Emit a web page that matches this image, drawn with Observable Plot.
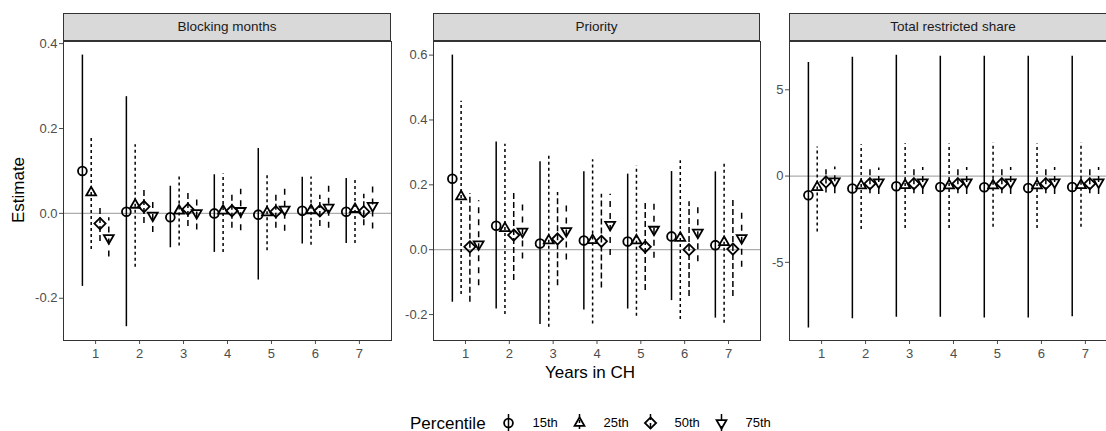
<!DOCTYPE html>
<html><head><meta charset="utf-8">
<script src="https://cdn.jsdelivr.net/npm/d3@7"></script>
<script src="https://cdn.jsdelivr.net/npm/@observablehq/plot@0.6"></script>
<style>
html,body{margin:0;padding:0;background:#fff;overflow:hidden}
#chart{position:relative;width:1106px;height:431px;overflow:hidden;font-family:"Liberation Sans",Arial,Helvetica,sans-serif}
#chart svg{position:absolute;top:0}
.strip{position:absolute;top:13px;height:28px;box-sizing:border-box;border:1px solid #333;background:#d9d9d9;font-size:13.5px;color:#1a1a1a;text-align:center;line-height:26px;white-space:nowrap;overflow:hidden}
.title{position:absolute;color:#000;font-size:17px;line-height:17px;white-space:nowrap}
</style>
</head><body>
<div id="chart"></div>
<script>
const years = [1, 2, 3, 4, 5, 6, 7];
const percentiles = ["15th", "25th", "50th", "75th"];
const panelTitles = ["Blocking months", "Priority", "Total restricted share"];

// rows: 15th, 25th, 50th, 75th; columns: years 1..7
const blockEst = [
  [0.100, 0.004, -0.009, 0.000, -0.003, 0.006, 0.004],
  [0.049, 0.020, 0.006, 0.006, 0.002, 0.007, 0.010],
  [-0.024, 0.016, 0.010, 0.006, 0.004, 0.006, 0.004],
  [-0.058, -0.005, 0.001, 0.006, 0.009, 0.014, 0.018]
];
const blockLo = [
  [-0.172, -0.267, -0.081, -0.092, -0.157, -0.072, -0.071],
  [-0.085, -0.127, -0.077, -0.092, -0.088, -0.075, -0.071],
  [-0.066, -0.024, -0.031, -0.035, -0.035, -0.031, -0.029],
  [-0.103, -0.045, -0.039, -0.041, -0.042, -0.035, -0.037]
];
const blockHi = [
  [0.373, 0.275, 0.064, 0.091, 0.153, 0.085, 0.082],
  [0.179, 0.162, 0.087, 0.093, 0.091, 0.086, 0.082],
  [0.018, 0.057, 0.053, 0.048, 0.043, 0.043, 0.045],
  [-0.010, 0.034, 0.040, 0.057, 0.064, 0.065, 0.075]
];

const prioEst = [
  [0.219, 0.074, 0.019, 0.028, 0.025, 0.041, 0.014],
  [0.164, 0.066, 0.028, 0.029, 0.028, 0.036, 0.023],
  [0.009, 0.045, 0.033, 0.026, 0.009, 0.000, 0.002],
  [0.017, 0.056, 0.058, 0.077, 0.062, 0.053, 0.036]
];
const prioLo = [
  [-0.162, -0.183, -0.231, -0.186, -0.183, -0.157, -0.211],
  [-0.138, -0.200, -0.239, -0.229, -0.205, -0.215, -0.227],
  [-0.162, -0.095, -0.111, -0.118, -0.126, -0.144, -0.144],
  [-0.111, -0.029, -0.032, -0.018, -0.026, -0.037, -0.054]
];
const prioHi = [
  [0.600, 0.332, 0.271, 0.240, 0.233, 0.241, 0.240],
  [0.458, 0.325, 0.288, 0.277, 0.258, 0.274, 0.264],
  [0.173, 0.176, 0.176, 0.171, 0.146, 0.148, 0.158],
  [0.151, 0.144, 0.149, 0.171, 0.148, 0.141, 0.130]
];

const shareEst = [
  [-1.11, -0.72, -0.59, -0.63, -0.65, -0.69, -0.63],
  [-0.65, -0.55, -0.53, -0.55, -0.55, -0.55, -0.53],
  [-0.34, -0.44, -0.44, -0.44, -0.44, -0.44, -0.44],
  [-0.30, -0.36, -0.36, -0.36, -0.36, -0.36, -0.36]
];
const shareLo = [
  [-8.80, -8.27, -8.18, -8.18, -8.22, -8.22, -8.16],
  [-3.24, -3.10, -3.04, -3.04, -2.96, -3.04, -2.96],
  [-0.98, -1.03, -1.03, -1.03, -1.03, -1.03, -1.03],
  [-1.03, -1.07, -1.07, -1.07, -1.07, -1.07, -1.07]
];
const shareHi = [
  [6.59, 6.88, 7.00, 6.94, 6.94, 6.94, 6.94],
  [1.69, 1.82, 1.88, 1.86, 1.92, 1.86, 1.92],
  [0.37, 0.43, 0.43, 0.43, 0.43, 0.43, 0.43],
  [0.53, 0.47, 0.50, 0.50, 0.50, 0.50, 0.50]
];

const blockTicks = [-0.2, 0, 0.2, 0.4];
const prioTicks = [-0.2, 0, 0.2, 0.4, 0.6];
const shareTicks = [-5, 0, 5];

// ---- styling / layout ----
const dodge = [-0.3, -0.1, 0.1, 0.3];
const dashes = [null, "3,3", "6,3", "6,6"];
const SW = 1.8;
const symCircle = {draw(c) { const r = 4.4; c.moveTo(r, 0); c.arc(0, 0, r, 0, 2 * Math.PI); c.closePath(); }};
const symTriUp = {draw(c) { const r = 5.7, w = 0.866 * r; c.moveTo(0, -r); c.lineTo(w, r / 2); c.lineTo(-w, r / 2); c.closePath(); }};
const symDiamond = {draw(c) { const r = 5.6; c.moveTo(0, -r); c.lineTo(r, 0); c.lineTo(0, r); c.lineTo(-r, 0); c.closePath(); }};
const symTriDown = {draw(c) { const r = 5.7, w = 0.866 * r; c.moveTo(0, r); c.lineTo(w, -r / 2); c.lineTo(-w, -r / 2); c.closePath(); }};
const symbols = [symCircle, symTriUp, symDiamond, symTriDown];

const chart = document.getElementById("chart");
const font = '"Liberation Sans", Arial, Helvetica, sans-serif';

function panel(est, lo, hi, domain, ticks, fmt, left, mLeft, width) {
  const rows = [];
  percentiles.forEach((p, j) => years.forEach((yr, i) =>
    rows.push({year: yr, pct: p, j, est: est[j][i], lo: lo[j][i], hi: hi[j][i]})));
  const marks = [Plot.ruleY([0], {stroke: "#adadad", strokeWidth: 1.3})];
  percentiles.forEach((p, j) => {
    const sub = rows.filter(d => d.pct === p);
    marks.push(Plot.ruleX(sub, {x: d => d.year + dodge[j], y1: "lo", y2: "hi",
      stroke: "black", strokeWidth: 1.5, strokeDasharray: dashes[j]}));
    marks.push(Plot.dot(sub, {x: d => d.year + dodge[j], y: "est", symbol: symbols[j],
      stroke: "black", strokeWidth: SW, fill: "none"}));
  });
  marks.push(Plot.frame({stroke: "#333", strokeWidth: 1}));
  const svg = Plot.plot({
    width: width, height: 370,
    marginLeft: mLeft, marginRight: 1, marginTop: 41, marginBottom: 30,
    style: {fontFamily: font, fontSize: "13px", color: "#4d4d4d", background: "transparent", overflow: "visible"},
    x: {type: "linear", domain: [0.27, 7.73], ticks: years, tickFormat: d => String(d), tickSize: 4, tickPadding: 4, label: null},
    y: {type: "linear", domain: domain, ticks: ticks, tickFormat: fmt, tickSize: 4, tickPadding: 2, label: null},
    marks
  });
  svg.style.left = left + "px";
  chart.appendChild(svg);
}

const f1 = d => d.toFixed(1);
const f0 = d => String(d);
panel(blockEst, blockLo, blockHi, [-0.2995, 0.405], blockTicks, f1, 0, 63, 392);
panel(prioEst, prioLo, prioHi, [-0.280, 0.642], prioTicks, f1, 391, 42, 370);
panel(shareEst, shareLo, shareHi, [-9.53, 7.80], shareTicks, f0, 760, 29, 358);

// strips
[[63, 328], [433, 327], [789, 328]].forEach(([l, w], k) => {
  const d = document.createElement("div");
  d.className = "strip";
  d.style.left = l + "px"; d.style.width = w + "px";
  d.textContent = panelTitles[k];
  chart.appendChild(d);
});

// axis titles
const yt = document.createElement("div");
yt.className = "title";
yt.textContent = "Estimate";
yt.style.left = "18px"; yt.style.top = "190px";
yt.style.transform = "translate(-50%,-50%) rotate(-90deg)";
chart.appendChild(yt);

const xt = document.createElement("div");
xt.className = "title";
xt.textContent = "Years in CH";
xt.style.left = "590px"; xt.style.top = "372px";
xt.style.transform = "translate(-50%,-50%)";
chart.appendChild(xt);

// legend
const lt = document.createElement("div");
lt.className = "title";
lt.textContent = "Percentile";
lt.style.left = "410px"; lt.style.top = "423px";
lt.style.transform = "translate(0,-50%)";
chart.appendChild(lt);

const legend = Plot.plot({
  width: 1106, height: 30, marginTop: 6, marginBottom: 7, marginLeft: 0, marginRight: 0,
  style: {fontFamily: font, fontSize: "13px", color: "#000", background: "transparent"},
  x: {type: "point", domain: percentiles, range: [507, 722], padding: 0, align: 0.5, axis: null},
  marks: [
    ...percentiles.map((p, j) => Plot.ruleX([p], {stroke: "black", strokeWidth: 1.5, strokeDasharray: dashes[j]})),
    ...percentiles.map((p, j) => Plot.dot([p], {x: d => d, frameAnchor: "middle", symbol: symbols[j], stroke: "black", strokeWidth: SW, fill: "none"})),
    Plot.text(percentiles, {x: d => d, text: d => d, frameAnchor: "middle", dx: 24, textAnchor: "start", fill: "black"})
  ]
});
legend.style.top = "408px"; legend.style.left = "0px";
chart.appendChild(legend);
</script>
</body></html>
